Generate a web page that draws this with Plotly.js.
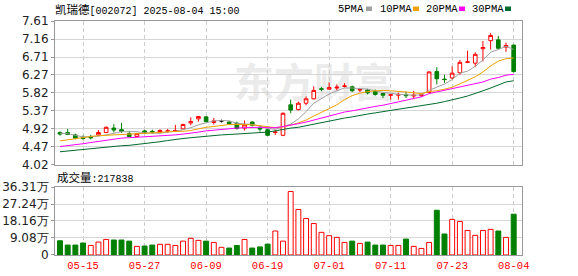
<!DOCTYPE html>
<html><head><meta charset="utf-8">
<script src="https://cdn.plot.ly/plotly-3.0.1.min.js"></script>
<style>html,body{margin:0;padding:0;background:#fff;}#c{width:578px;height:276px;}</style>
</head><body><div id="c"></div>
<script>
// ---------- data ----------
const dates = ['05-12','05-13','05-14','05-15','05-16','05-19','05-20','05-21','05-22','05-23',
  '05-26','05-27','05-28','05-29','05-30','06-03','06-04','06-05','06-06','06-09',
  '06-10','06-11','06-12','06-13','06-16','06-17','06-18','06-19','06-20','06-23',
  '06-24','06-25','06-26','06-27','06-30','07-01','07-02','07-03','07-04','07-07',
  '07-08','07-09','07-10','07-11','07-14','07-15','07-16','07-17','07-18','07-21',
  '07-22','07-23','07-24','07-25','07-28','07-29','07-30','07-31','08-01','08-04'];
const tickDates = ['05-15','05-27','06-09','06-19','07-01','07-11','07-23','08-04'];
const openP  = [4.83,4.83,4.77,4.71,4.72,4.77,4.83,4.94,4.90,4.80, 4.73,4.87,4.86,4.83,4.86,4.86,4.92,5.07,5.17,5.22,
  5.08,5.12,5.09,5.06,4.94,5.09,4.94,4.90,4.83,4.76, 5.52,5.40,5.56,5.67,5.92,5.91,5.94,5.98,5.97,5.89,
  5.89,5.85,5.80,5.76,5.76,5.77,5.74,5.75,5.83,6.35, 6.16,6.19,6.32,6.58,6.56,6.92,7.12,7.14,6.96,7.01];
const highP  = [4.86,4.92,4.80,4.76,4.77,4.89,4.98,5.04,5.07,4.87, 4.82,4.90,4.90,4.91,4.92,5.02,5.05,5.21,5.24,5.23,
  5.19,5.15,5.12,5.10,5.13,5.11,5.00,4.92,4.90,5.33, 5.65,5.60,5.73,5.98,5.97,6.08,6.03,6.06,6.00,5.93,
  5.92,5.90,5.81,5.78,5.82,5.85,5.87,5.80,6.35,6.46, 6.27,6.48,6.64,6.87,6.83,7.11,7.31,7.24,7.07,7.02];
const lowP   = [4.75,4.77,4.66,4.65,4.66,4.74,4.82,4.83,4.82,4.72, 4.71,4.80,4.80,4.81,4.82,4.85,4.91,5.01,5.10,5.09,
  5.03,5.08,5.03,4.90,4.88,4.98,4.85,4.74,4.77,4.74, 5.31,5.38,5.51,5.65,5.86,5.90,5.88,5.95,5.84,5.84,
  5.78,5.75,5.69,5.65,5.65,5.69,5.69,5.72,5.81,6.03, 6.07,6.15,6.27,6.56,6.46,6.60,6.90,6.90,6.84,6.33];
const closeP = [4.79,4.78,4.69,4.68,4.70,4.83,4.96,4.89,4.86,4.73, 4.80,4.82,4.84,4.88,4.87,4.88,5.03,5.10,5.23,5.10,
  5.12,5.12,5.05,4.93,5.02,5.01,4.92,4.76,4.84,5.31, 5.39,5.56,5.67,5.88,5.91,5.95,5.96,5.99,5.87,5.90,
  5.82,5.78,5.76,5.77,5.78,5.75,5.76,5.77,6.34,6.17, 6.15,6.31,6.58,6.59,6.78,6.95,7.25,6.93,7.00,6.35];
const ma5  = [4.81,4.80,4.76,4.72,4.73,4.74,4.77,4.81,4.85,4.85, 4.85,4.82,4.81,4.81,4.84,4.86,4.90,4.95,5.02,5.07,
  5.12,5.13,5.12,5.06,5.05,5.03,4.99,4.93,4.91,4.97, 5.04,5.17,5.35,5.56,5.68,5.79,5.87,5.94,5.94,5.93,
  5.91,5.87,5.83,5.81,5.78,5.77,5.76,5.77,5.88,5.96, 6.04,6.15,6.31,6.36,6.48,6.64,6.83,6.90,6.98,6.90];
const ma10 = [4.62,4.65,4.68,4.71,4.73,4.75,4.76,4.77,4.78,4.79, 4.79,4.80,4.81,4.83,4.85,4.85,4.86,4.88,4.92,4.96,
  4.98,5.01,5.03,5.03,5.03,5.02,5.00,4.97,4.95,4.97, 5.01,5.07,5.14,5.24,5.33,5.42,5.52,5.65,5.75,5.81,
  5.85,5.87,5.88,5.87,5.86,5.84,5.82,5.80,5.85,5.87, 5.91,5.96,6.04,6.12,6.22,6.34,6.49,6.61,6.67,6.69];
const ma20 = [4.48,4.50,4.52,4.55,4.58,4.61,4.64,4.67,4.69,4.70, 4.71,4.72,4.73,4.74,4.75,4.77,4.79,4.81,4.84,4.87,
  4.89,4.91,4.92,4.94,4.95,4.96,4.96,4.95,4.95,4.98, 5.01,5.05,5.09,5.14,5.19,5.25,5.29,5.34,5.37,5.41,
  5.44,5.48,5.51,5.55,5.59,5.63,5.67,5.72,5.80,5.84, 5.88,5.92,5.96,6.00,6.04,6.09,6.16,6.20,6.26,6.28];
const ma30 = [4.35,4.37,4.39,4.40,4.42,4.44,4.46,4.48,4.50,4.51, 4.53,4.55,4.57,4.60,4.63,4.66,4.68,4.70,4.72,4.74,
  4.76,4.77,4.78,4.79,4.80,4.81,4.82,4.84,4.87,4.91, 4.94,4.96,5.00,5.04,5.08,5.12,5.15,5.19,5.22,5.26,
  5.29,5.32,5.35,5.38,5.41,5.44,5.47,5.49,5.53,5.56, 5.60,5.64,5.69,5.74,5.80,5.87,5.94,6.02,6.09,6.12];
const volWan = [7.6,5.3,5.3,6.4,5.1,6.9,8.3,8.0,8.0,7.4, 4.6,4.8,5.3,5.7,5.7,5.1,7.4,8.9,7.8,7.4,
  6.7,4.1,3.7,5.1,8.3,3.7,4.3,5.8,12.8,7.4, 33.9,24.3,19.5,16.8,12.1,10.3,9.4,6.7,7.4,6.2,
  6.9,5.3,5.3,5.1,5.1,8.5,4.6,3.5,6.7,23.9, 11.2,19.0,17.9,13.1,10.5,13.1,13.7,12.8,9.4,21.7838];
const volUp = [0,0,0,0,1,1,1,0,0,0, 1,0,0,1,1,1,1,1,1,0, 1,1,0,0,1,0,0,0,1,1,
  1,1,1,1,1,1,1,1,0,1, 0,0,0,1,1,0,1,1,1,0, 0,1,1,1,1,1,1,0,1,0];
const priceLabels = ['4.02','4.47','4.92','5.37','5.82','6.27','6.71','7.16','7.61'];
const volLabels = ['0','9.08万','18.16万','27.24万','36.31万'];
const volTickVals = [0,9.08,18.16,27.24,36.31];
const titleStock = '凯瑞德';
const titleRest = '[002072] 2025-08-04 15:00';
const volText = '成交量:217838';
const maNames = ['5PMA','10PMA','20PMA','30PMA'];

// ---------- styles ----------
const RED = '#ff0000', GREEN = '#008000';
const maColors = ['#a0a0a0','#f2a000','#ff00ff','#006a2c'];
const W = 578, H = 276, L = 55, R = 56, T = 21, B = 21;
const plotW = W - L - R, plotH = H - T - B;
const px2x = p => (p - L) / plotW;
const py2y = p => (H - B - p) / plotH;

// split dojis (open == close) into a black trace
const idxMain = [], idxDoji = [];
dates.forEach((d, i) => (openP[i] === closeP[i] ? idxDoji : idxMain).push(i));
const pick = (arr, idx) => idx.map(i => arr[i]);

const traces = [];
traces.push({
  type: 'candlestick', xaxis: 'x', yaxis: 'y',
  x: pick(dates, idxMain), open: pick(openP, idxMain), high: pick(highP, idxMain),
  low: pick(lowP, idxMain), close: pick(closeP, idxMain),
  increasing: {line: {color: RED, width: 1}, fillcolor: '#ffffff'},
  decreasing: {line: {color: GREEN, width: 1}, fillcolor: GREEN},
  whiskerwidth: 0, hoverinfo: 'skip'
});
if (idxDoji.length) traces.push({
  type: 'candlestick', xaxis: 'x', yaxis: 'y',
  x: pick(dates, idxDoji), open: pick(openP, idxDoji), high: pick(highP, idxDoji),
  low: pick(lowP, idxDoji), close: pick(closeP, idxDoji),
  increasing: {line: {color: '#000', width: 1}, fillcolor: '#000'},
  decreasing: {line: {color: '#000', width: 1}, fillcolor: '#000'},
  whiskerwidth: 0, hoverinfo: 'skip'
});
[ma5, ma10, ma20, ma30].forEach((m, k) => traces.push({
  type: 'scatter', mode: 'lines', xaxis: 'x', yaxis: 'y', x: dates, y: m,
  line: {color: maColors[k], width: 1}, hoverinfo: 'skip'
}));
traces.push({
  type: 'bar', xaxis: 'x2', yaxis: 'y2', x: dates, y: volWan, width: 0.64,
  marker: {color: volUp.map(u => u ? '#ffffff' : GREEN),
           line: {color: volUp.map(u => u ? RED : GREEN), width: 1}},
  hoverinfo: 'skip'
});

const xCommon = {
  type: 'category', categoryorder: 'array', categoryarray: dates,
  range: [-0.65, 60.08], tickvals: tickDates, showgrid: true, gridcolor: '#cccccc',
  griddash: '4px,3px', gridwidth: 1, showline: true, mirror: true, linecolor: '#999999',
  linewidth: 1, zeroline: false, ticks: '', fixedrange: true
};
const yCommon = {
  showgrid: true, gridcolor: '#d6d6d6', gridwidth: 1, showline: true, mirror: true,
  linecolor: '#999999', linewidth: 1, zeroline: false, ticks: 'outside', ticklen: 3,
  tickcolor: '#999999', tickfont: {family: 'DejaVu Sans', size: 12, color: '#222222'},
  fixedrange: true
};

const annotations = [
  {xref: 'paper', yref: 'paper', x: px2x(55), y: py2y(9), xanchor: 'left', yanchor: 'middle',
   showarrow: false, xshift: -2,
   text: '<span style="font-family:Noto Sans CJK SC;font-size:11.5px">' + titleStock + '</span>' + titleRest,
   font: {family: 'Liberation Mono', size: 10, color: '#000'}},
  {xref: 'paper', yref: 'paper', x: px2x(57), y: py2y(177), xanchor: 'left', yanchor: 'middle',
   showarrow: false, xshift: -2,
   text: '<span style="font-family:Noto Sans CJK SC;font-size:11.5px">' + volText.slice(0, 3) + '</span>' + volText.slice(3),
   font: {family: 'Liberation Mono', size: 10, color: '#000'}}
];
const legX = [338, 380, 426, 472], sqX = [366, 413, 459, 505];
const shapes = [];
maNames.forEach((n, k) => {
  annotations.push({xref: 'paper', yref: 'paper', x: px2x(legX[k]), y: py2y(9), xanchor: 'left',
    yanchor: 'middle', showarrow: false, xshift: -2, text: n,
    font: {family: 'Liberation Mono', size: 10.5, color: '#000'}});
  shapes.push({type: 'rect', xref: 'paper', yref: 'paper', x0: px2x(sqX[k]), x1: px2x(sqX[k] + 6),
    y0: py2y(11), y1: py2y(6.5), line: {width: 0}, fillcolor: maColors[k]});
});
shapes.push({type: 'rect', xref: 'paper', yref: 'paper', layer: 'below',
  x0: px2x(232), x1: px2x(396), y0: py2y(110), y1: py2y(62), line: {width: 0},
  fillcolor: 'rgba(0,0,0,0)',
  label: {text: '东方财富', textposition: 'middle center',
          font: {family: 'Noto Sans CJK SC', size: 40, color: '#ebebeb', weight: 'bold'}}});

const layout = {
  width: W, height: H, margin: {l: L, r: R, t: T, b: B, pad: 0},
  paper_bgcolor: '#ffffff', plot_bgcolor: '#ffffff', showlegend: false, boxgap: 0.32,
  bargap: 0.3, dragmode: false,
  xaxis: Object.assign({}, xCommon, {anchor: 'y', showticklabels: false, rangeslider: {visible: false}}),
  xaxis2: Object.assign({}, xCommon, {anchor: 'y2', showticklabels: true,
    tickfont: {family: 'Liberation Mono', size: 10.5, color: '#ff0000'}}),
  yaxis: Object.assign({}, yCommon, {domain: [py2y(165), 1], range: [4.0195, 7.6105],
    tickvals: priceLabels.map(Number), ticktext: priceLabels}),
  yaxis2: Object.assign({}, yCommon, {domain: [0, py2y(187)], range: [-0.01, 36.32],
    tickvals: volTickVals, ticktext: volLabels}),
  annotations: annotations, shapes: shapes
};
Plotly.newPlot('c', traces, layout, {staticPlot: true, displayModeBar: false});
</script></body></html>
